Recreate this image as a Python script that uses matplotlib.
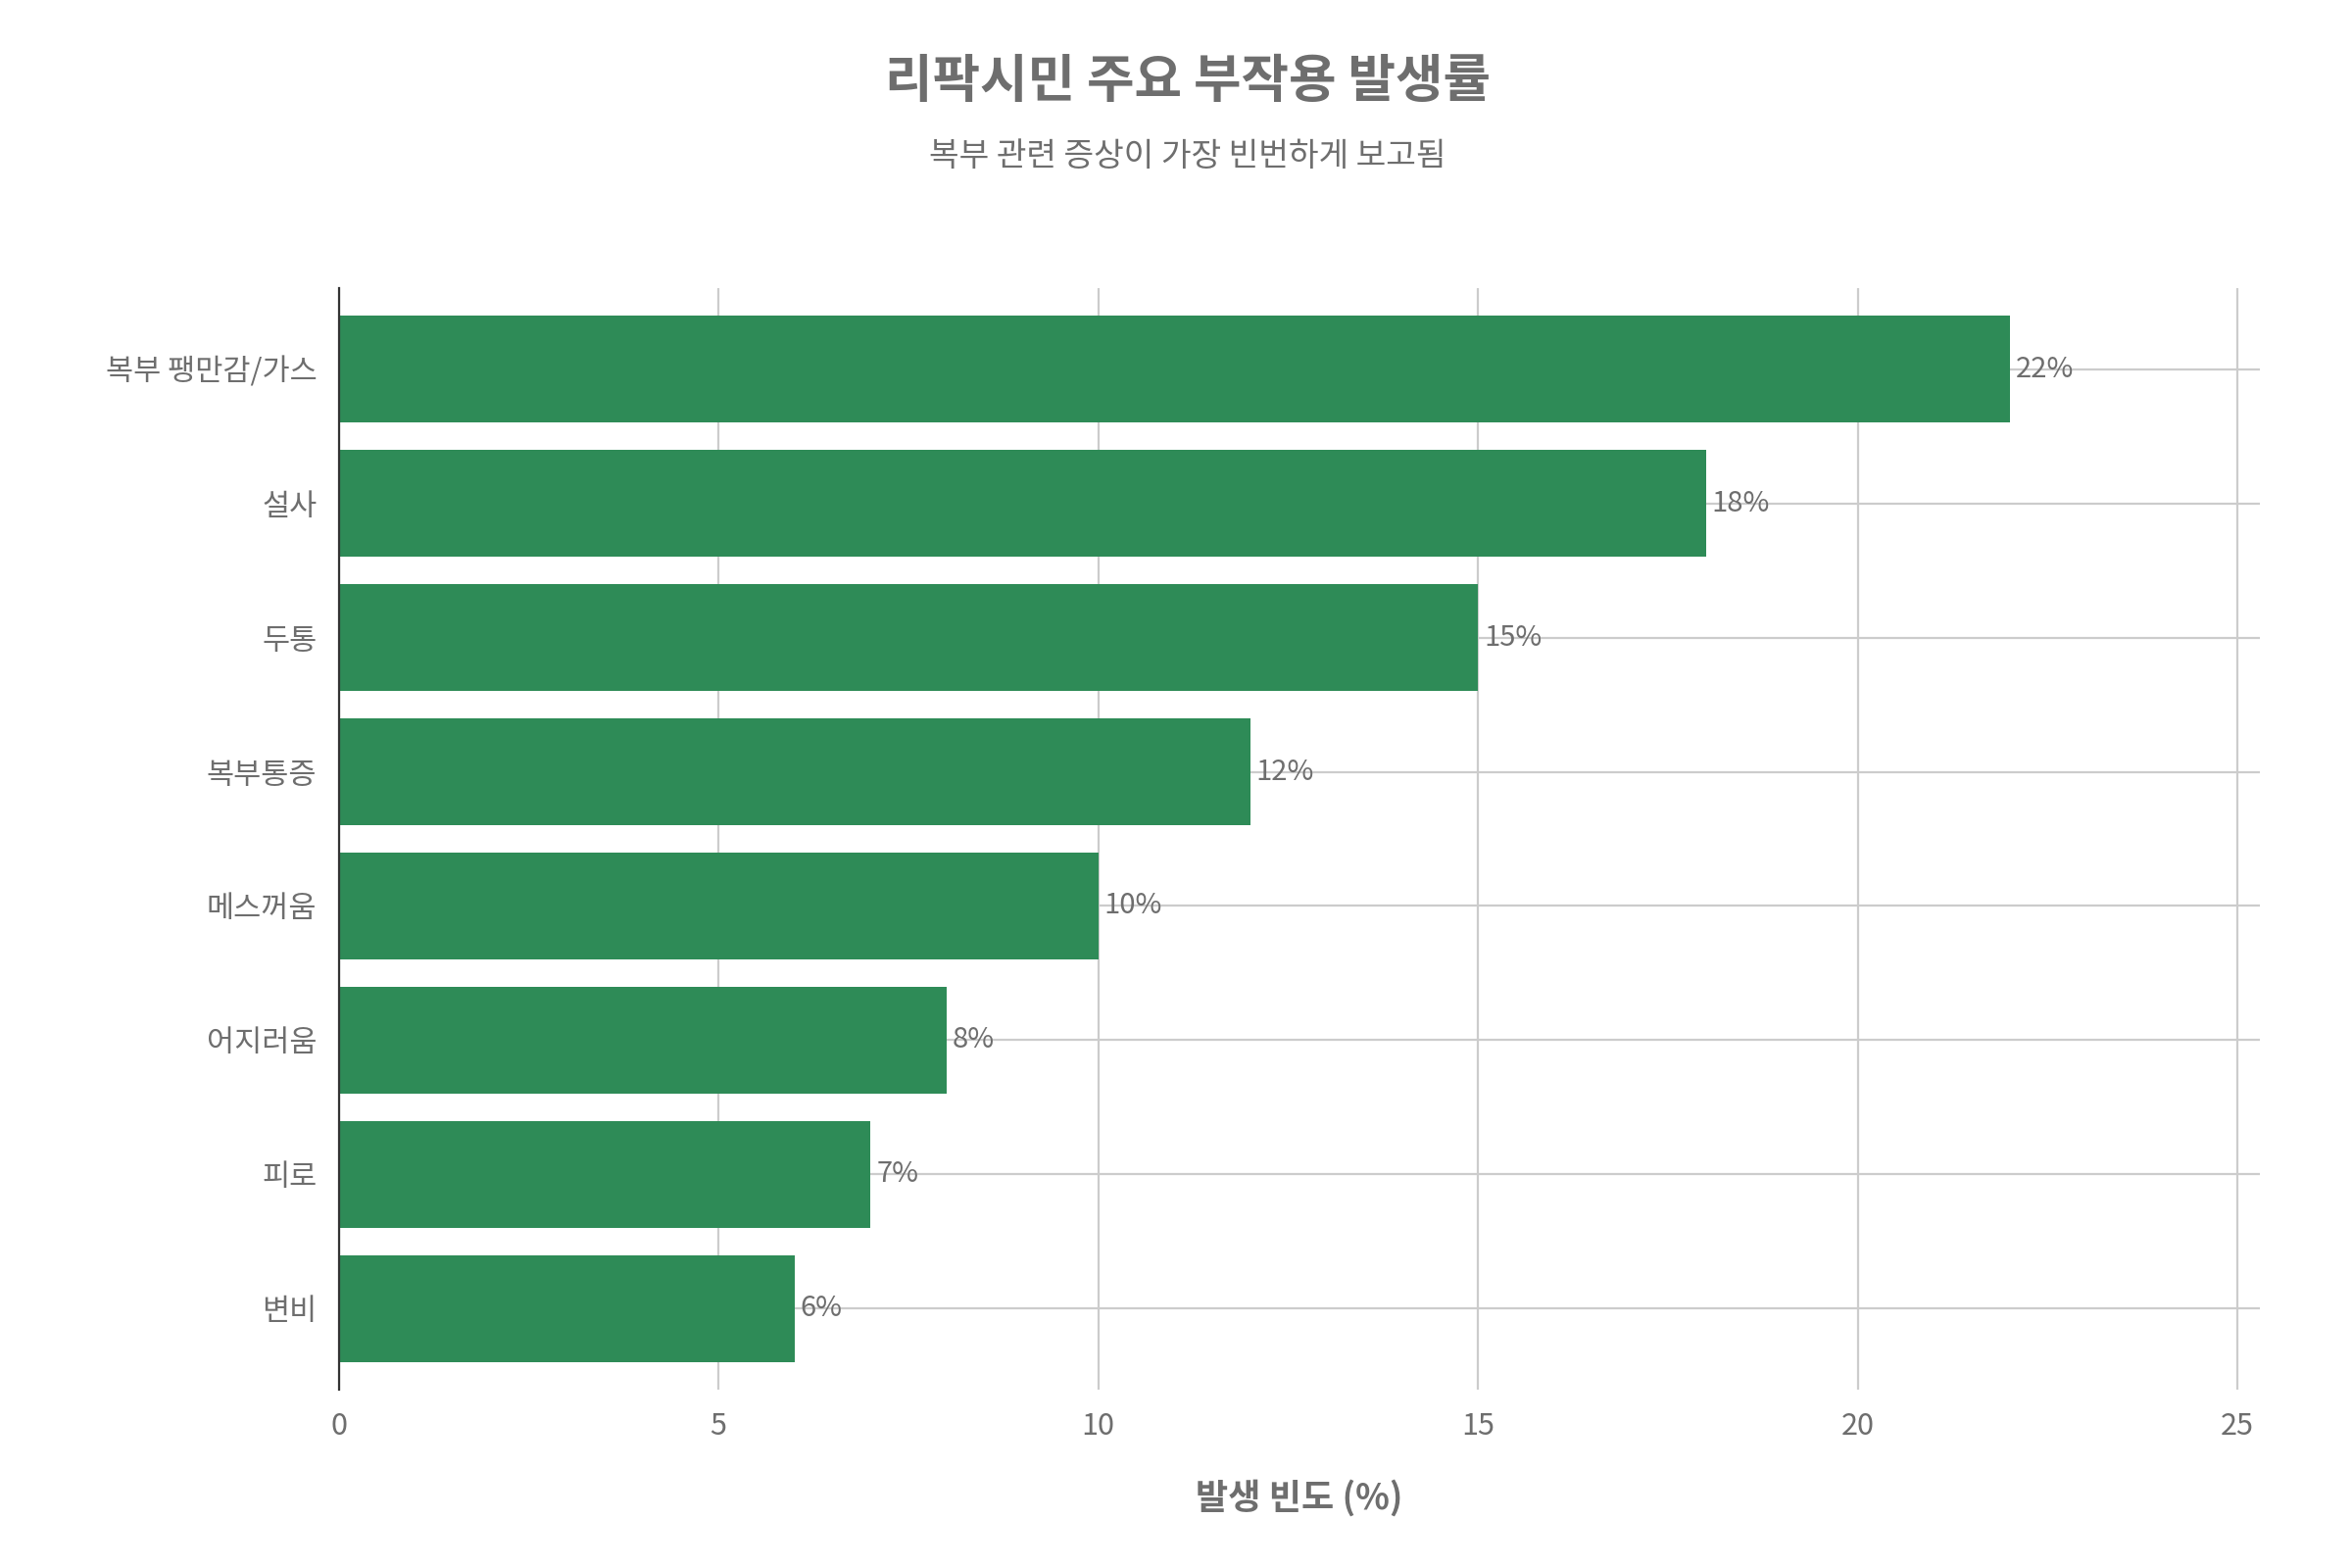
import matplotlib.pyplot as plt

plt.rcParams['font.family'] = ['Noto Sans CJK KR', 'DejaVu Sans']

categories = ['복부 팽만감/가스', '설사', '두통', '복부통증', '메스꺼움', '어지러움', '피로', '변비']
values = [22, 18, 15, 12, 10, 8, 7, 6]
xticks = [0, 5, 10, 15, 20, 25]

grey = '#6e6e6e'
fig = plt.figure(figsize=(12, 8), dpi=200)
ax = fig.add_axes([0.144, 0.114, 0.817, 0.702])

y = list(range(len(categories)))[::-1]
ax.barh(y, values, height=0.8, color='#2E8B57', zorder=2)
for yi, v in zip(y, values):
    ax.text(v + 0.08, yi, f'{v}%', va='center', ha='left', fontsize=10.5, color=grey, zorder=3)

ax.set_yticks(y)
ax.set_yticklabels(categories, fontsize=11, color=grey)
ax.set_xticks(xticks)
ax.set_xticklabels([str(t) for t in xticks], fontsize=11, color=grey)
ax.set_xlim(0, 25.3)
ax.set_ylim(-0.6, len(categories) - 0.4)
ax.grid(color='#cccccc', linewidth=0.8, zorder=0)
for s in ['top', 'right', 'bottom']:
    ax.spines[s].set_visible(False)
ax.spines['left'].set_color('#333333')
ax.tick_params(axis='both', length=0, pad=8)

ax.set_xlabel('발생 빈도 (%)', fontsize=13, fontweight='bold', color=grey, labelpad=14)
fig.text(0.505, 0.948, '리팍시민 주요 부작용 발생률', ha='center', va='center',
         fontsize=19, fontweight='bold', color=grey)
fig.text(0.505, 0.9, '복부 관련 증상이 가장 빈번하게 보고됨', ha='center', va='center',
         fontsize=12, color=grey)

fig.savefig('out.png')
